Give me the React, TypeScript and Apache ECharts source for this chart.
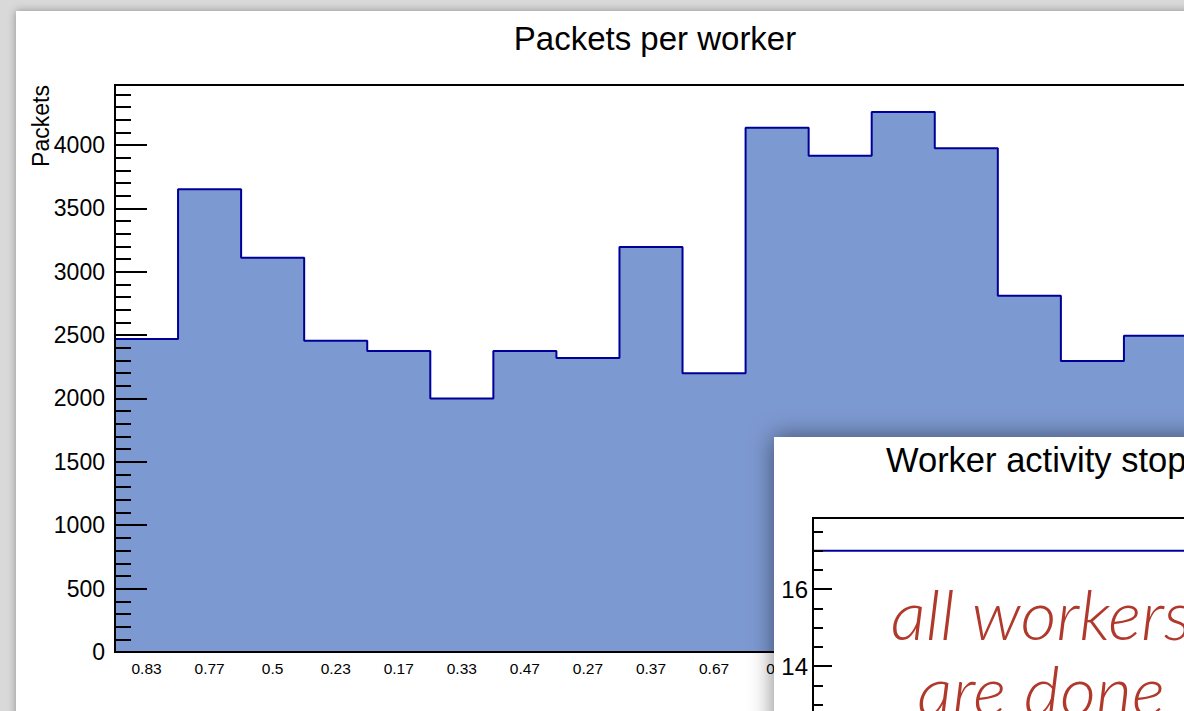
import React, { useEffect, useRef } from "react";
import * as echarts from "echarts";

// ---- data ----
const categories = [
  "0.83", "0.77", "0.5", "0.23", "0.17", "0.33", "0.47", "0.27", "0.37", "0.67",
  "0.9", "0.63", "0.13", "0.73", "0.53", "0.43", "0.57",
];
const packets = [
  2470, 3650, 3110, 2455, 2375, 2000, 2375, 2320, 3195, 2200,
  4135, 3915, 4260, 3975, 2810, 2295, 2495,
];
const packetsYMax = 4473;
const packetsTicks = 500;
const visibleLabelCount = 11; // labels further right are hidden behind the inset window

const activityTime = [0, 10];
const activeWorkers = [17, 17];
const activityYMin = 12;
const activityYMax = 17.85;
const activityTicks = 2;
const activityLowestLabel = 14;

const FONT = "'Liberation Sans', Arial, Helvetica, sans-serif";
const FILL = "#7d99d1";
const LINE = "#000099";

export default function App() {
  const ref = useRef<HTMLDivElement>(null);

  useEffect(() => {
    if (!ref.current) return;
    const chart = echarts.init(ref.current, null, { renderer: "svg" });

    // step outline points: left edge of each bin, plus the right edge of the last bin
    const stepData = packets.map((v, i) => [i, v]);
    stepData.push([packets.length, packets[packets.length - 1]]);

    const activityData = activityTime.map((t, i) => [t, activeWorkers[i]]);

    chart.setOption({
      animation: false,
      backgroundColor: "#d9d9d9",
      title: {
        text: "Packets per worker",
        left: 650,
        textAlign: "center",
        top: 17,
        textStyle: { fontSize: 33, fontWeight: "normal", color: "#000", fontFamily: FONT },
      },
      graphic: {
        elements: [
          {
            type: "rect",
            z: 0,
            shape: { x: 16, y: 11, width: 1300, height: 800 },
            style: { fill: "#ffffff", shadowBlur: 8, shadowColor: "rgba(0,0,0,0.35)" },
          },
          {
            type: "text",
            z: 5,
            x: 41,
            y: 126,
            rotation: Math.PI / 2,
            style: {
              text: "Packets",
              fontSize: 23,
              fontFamily: FONT,
              fill: "#000",
              align: "center",
              verticalAlign: "middle",
            },
          },
          {
            type: "rect",
            z: 20,
            shape: { x: 774, y: 437, width: 600, height: 400 },
            style: { fill: "#ffffff", shadowBlur: 24, shadowColor: "rgba(0,0,0,0.5)" },
          },
          {
            type: "text",
            z: 21,
            x: 886,
            y: 460,
            style: {
              text: "Worker activity stop",
              fontSize: 34.5,
              fontFamily: FONT,
              fill: "#000",
              align: "left",
              verticalAlign: "middle",
            },
          },
          {
            type: "text",
            z: 30,
            x: 1041,
            y: 651,
            style: {
              text: "all workers\nare done",
              fontSize: 70,
              fontStyle: "italic",
              fontWeight: 300,
              fontFamily: "Lato, 'Open Sans', sans-serif",
              lineHeight: 76,
              fill: "#b0392b",
              align: "center",
              verticalAlign: "middle",
            },
          },
        ],
      },
      grid: [
        {
          left: 115, top: 85, width: 1072, height: 567,
          outerBoundsMode: "none",
          containLabel: false,
          show: true, borderColor: "#000", borderWidth: 2, backgroundColor: "transparent",
          z: 2,
        },
        {
          left: 813, top: 518, width: 600, height: (activityYMax - activityYMin) * 38.5,
          outerBoundsMode: "none",
          containLabel: false,
          show: true, borderColor: "#000", borderWidth: 2, backgroundColor: "transparent",
          z: 22,
        },
      ],
      xAxis: [
        {
          type: "category",
          gridIndex: 0,
          data: categories,
          boundaryGap: true,
          z: 4,
          axisLine: { lineStyle: { color: "#000", width: 2 } },
          axisTick: { inside: true, length: 16, alignWithLabel: true, lineStyle: { color: "#000", width: 2 } },
          axisLabel: {
            fontSize: 15.5, color: "#000", fontFamily: FONT, margin: 8, interval: 0,
            formatter: (v: string, i: number) => (i < visibleLabelCount ? v : ""),
          },
          splitLine: { show: false },
        },
        { type: "value", gridIndex: 0, min: 0, max: packets.length, show: false },
        { type: "value", gridIndex: 1, min: 0, max: 10, show: false },
      ],
      yAxis: [
        {
          type: "value",
          gridIndex: 0,
          min: 0,
          max: packetsYMax,
          interval: packetsTicks,
          z: 4,
          axisLine: { show: true, lineStyle: { color: "#000", width: 2 } },
          axisTick: { show: true, inside: true, length: 32, lineStyle: { color: "#000", width: 2 } },
          minorTick: { show: true, splitNumber: 5, length: 16, lineStyle: { color: "#000", width: 2 } },
          axisLabel: {
            fontSize: 23, color: "#000", fontFamily: FONT, margin: 10, showMaxLabel: false,
            formatter: (v: number) => String(v),
          },
          splitLine: { show: false },
          minorSplitLine: { show: false },
        },
        {
          type: "value",
          gridIndex: 1,
          min: activityYMin,
          max: activityYMax,
          interval: activityTicks,
          z: 24,
          axisLine: { show: true, lineStyle: { color: "#000", width: 2 } },
          axisTick: { show: true, inside: true, length: 19, lineStyle: { color: "#000", width: 2 } },
          minorTick: { show: true, splitNumber: 4, length: 10, lineStyle: { color: "#000", width: 2 } },
          axisLabel: {
            fontSize: 24, color: "#000", fontFamily: FONT, margin: 5, showMaxLabel: false,
            formatter: (v: number) => (v >= activityLowestLabel ? String(v) : ""),
          },
          splitLine: { show: false },
          minorSplitLine: { show: false },
        },
      ],
      series: [
        {
          type: "line",
          xAxisIndex: 1,
          yAxisIndex: 0,
          data: stepData,
          step: "end",
          showSymbol: false,
          z: 3,
          lineStyle: { color: LINE, width: 2 },
          areaStyle: { color: FILL, opacity: 1 },
          silent: true,
        },
        {
          type: "line",
          xAxisIndex: 2,
          yAxisIndex: 1,
          data: activityData,
          showSymbol: false,
          z: 23,
          lineStyle: { color: LINE, width: 2 },
          silent: true,
        },
      ],
    });

    return () => chart.dispose();
  }, []);

  return (
    <div
      ref={ref}
      style={{ position: "fixed", left: 0, top: 0, width: 1184, height: 711 }}
    />
  );
}
